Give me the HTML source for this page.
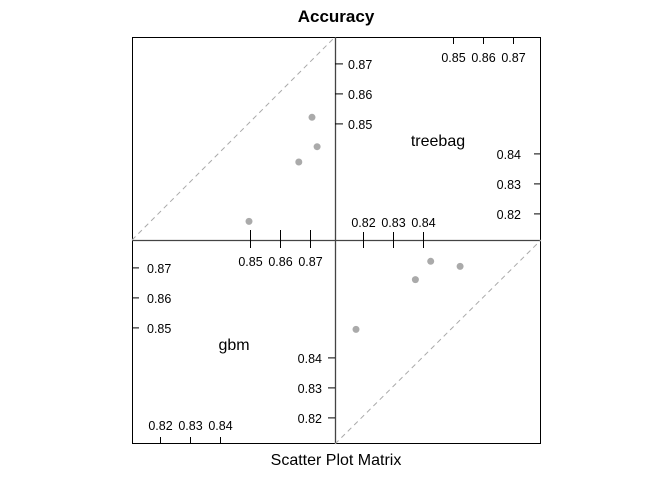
<!DOCTYPE html>
<html><head><meta charset="utf-8"><style>
body{margin:0;background:#fff}
svg text{font-family:"Liberation Sans",Arial,sans-serif;fill:#000}
</style></head><body>
<svg id="c" width="672" height="480" xmlns="http://www.w3.org/2000/svg">
<text x="336" y="22" text-anchor="middle" font-size="17" font-weight="bold">Accuracy</text>
<text x="336" y="465" text-anchor="middle" font-size="16">Scatter Plot Matrix</text>
<rect x="132.5" y="37.5" width="408" height="406" fill="none" stroke="#000" stroke-width="1"/>
<line x1="335.5" y1="37" x2="335.5" y2="444" stroke="#444" stroke-width="1.3"/>
<line x1="132" y1="240.5" x2="541" y2="240.5" stroke="#444" stroke-width="1.3"/>
<g id="g"></g>
</svg>
<script>
const treebag=[0.8175,0.8373,0.8424,0.8522];
const gbm=[0.8495,0.8661,0.8722,0.8705];
const lowTicks=[0.82,0.83,0.84];
const highTicks=[0.85,0.86,0.87];
const lowLabels=["0.82","0.83","0.84"];
const highLabels=["0.85","0.86","0.87"];
const LO_X=0.8105, LO_Y=0.8113, PX=3000;
const NS="http://www.w3.org/2000/svg";
const g=document.getElementById('g');
function mk(t,a){const e=document.createElementNS(NS,t);for(const k in a)e.setAttribute(k,a[k]);g.appendChild(e);return e;}
const xL=v=>132+(v-LO_X)*PX, xR=v=>335+(v-LO_X)*PX;
const yT=v=>240-(v-LO_Y)*PX, yB=v=>444-(v-LO_Y)*PX;
let d=mk('line',{x1:132,y1:240,x2:335,y2:37,stroke:'#aaa','stroke-dasharray':'5,4'});


d=mk('line',{x1:335,y1:444,x2:541,y2:240,stroke:'#aaa','stroke-dasharray':'5,4'});


for(let i=0;i<gbm.length;i++){
 let p=mk('circle',{cx:xL(gbm[i]),cy:yT(treebag[i]),r:3.5,fill:'#aaa'});
 
 
 p=mk('circle',{cx:xR(treebag[i]),cy:yB(gbm[i]),r:3.5,fill:'#aaa'});
 
 
}
function tick(x1,y1,x2,y2){const t=mk('line',{x1,y1,x2,y2,stroke:'#000'});
 
 }
function lab(x,y,s,anchor){const t=mk('text',{x,y,'font-size':12.5,'text-anchor':anchor});t.textContent=s;
 
 }
highTicks.forEach((v,i)=>{
 tick(xR(v),37,xR(v),44); lab(xR(v),62,highLabels[i],'middle');
 tick(335,yT(v),343,yT(v)); lab(348,yT(v)+5,highLabels[i],'start');
 tick(xL(v),230,xL(v),248); lab(xL(v),266,highLabels[i],'middle');
 tick(132,yB(v),139,yB(v)); lab(147,yB(v)+5,highLabels[i],'start');
});
lowTicks.forEach((v,i)=>{
 tick(xR(v),232,xR(v),248); lab(xR(v),227,lowLabels[i],'middle');
 tick(534,yT(v),541,yT(v)); lab(521,yT(v)+5,lowLabels[i],'end');
 tick(xL(v),437,xL(v),444); lab(xL(v),430,lowLabels[i],'middle');
 tick(328,yB(v),335,yB(v)); lab(322,yB(v)+5,lowLabels[i],'end');
});
let n=mk('text',{x:438,y:146,'font-size':16,'text-anchor':'middle'});n.textContent='treebag';


n=mk('text',{x:234,y:350,'font-size':16,'text-anchor':'middle'});n.textContent='gbm';


</script>
</body></html>
